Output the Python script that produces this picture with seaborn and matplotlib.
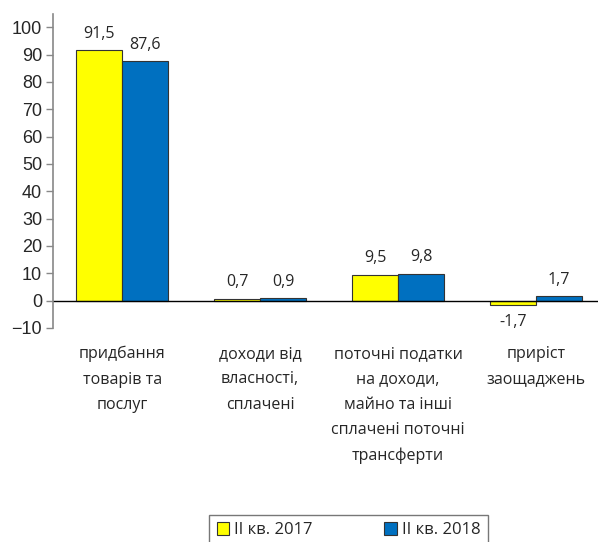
import pandas as pd
import matplotlib.pyplot as plt
import seaborn as sns

categories = [
    "придбання\nтоварів та\nпослуг",
    "доходи від\nвласності,\nсплачені",
    "поточні податки\nна доходи,\nмайно та інші\nсплачені поточні\nтрансферти",
    "приріст\nзаощаджень",
]
series = ["II кв. 2017", "II кв. 2018"]
values_2017 = [91.5, 0.7, 9.5, -1.7]
values_2018 = [87.6, 0.9, 9.8, 1.7]
colors = ["#FFFF00", "#0070C0"]

df = pd.DataFrame({
    "cat": categories * 2,
    "period": [series[0]] * 4 + [series[1]] * 4,
    "value": values_2017 + values_2018,
})

sns.set_style("white")
plt.rcParams["font.family"] = ["Liberation Sans", "DejaVu Sans"]

fig = plt.figure(figsize=(5.98, 5.42), dpi=100)
ax = fig.add_axes([0.089, 0.395, 0.911, 0.58])

sns.barplot(data=df, x="cat", y="value", hue="period", palette=colors, saturation=1,
            width=0.667, gap=0, edgecolor="#333333", linewidth=0.8, ax=ax)

for cont in ax.containers:
    ax.bar_label(cont, labels=[f"{v:.1f}".replace(".", ",") for v in cont.datavalues],
                 padding=6, fontsize=11.5, family="Open Sans")

ax.set_ylim(-10, 105)
ax.set_xlim(-0.5, 3.45)
ax.set_yticks(range(-10, 101, 10))
ax.tick_params(axis="y", labelsize=13, length=5, width=1, color="#888888", direction="out", left=True, pad=3)
ax.tick_params(axis="x", length=0, labelsize=11.5, pad=13)
for lbl in ax.get_xticklabels():
    lbl.set_linespacing(1.78)
    lbl.set_family("Open Sans")
ax.axhline(0, color="black", linewidth=1)
ax.set_xlabel("")
ax.set_ylabel("")
for s in ["top", "right", "bottom"]:
    ax.spines[s].set_visible(False)
ax.spines["left"].set_color("#888888")
ax.spines["left"].set_linewidth(1.2)

leg = ax.legend(loc="upper center", bbox_to_anchor=(0.583, 0.05), bbox_transform=fig.transFigure,
                ncol=2, frameon=True, fancybox=False, edgecolor="#555555",
                handlelength=0.75, handleheight=0.75, handletextpad=0.3, columnspacing=4.3,
                borderpad=0.45, borderaxespad=0, prop={"family": "Open Sans", "size": 12})
leg.get_frame().set_linewidth(1)

plt.savefig("out.png", dpi=100)
